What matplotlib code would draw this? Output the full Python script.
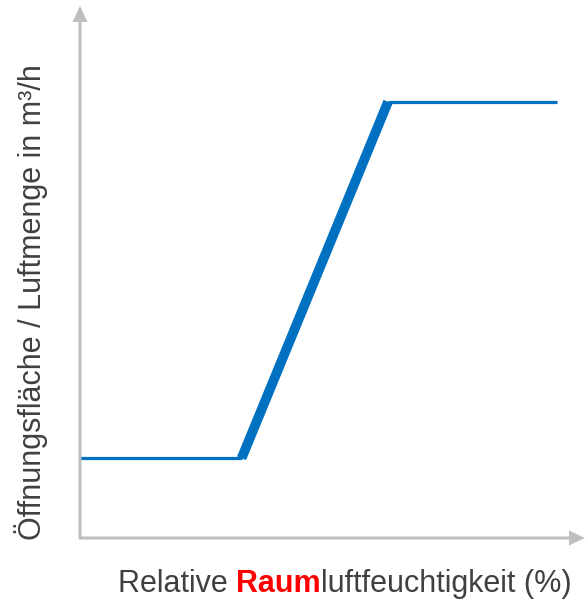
import matplotlib
matplotlib.use("Agg")
import matplotlib.pyplot as plt
from matplotlib import font_manager
from matplotlib.patches import FancyArrow

# Data
x_vals = [0, 32, 61, 94.5]
y_vals = [15, 15, 82, 82]
xlabel_parts = ["Relative ", "Raum", "luftfeuchtigkeit (%)"]
ylabel_text = "Öffnungsfläche / Luftmenge in m³/h"

names = {f.name for f in font_manager.fontManager.ttflist}
FONT = "Liberation Sans Narrow" if "Liberation Sans Narrow" in names else "Liberation Sans"
plt.rcParams['font.family'] = [FONT, 'DejaVu Sans']

W, H = 585, 603
fig = plt.figure(figsize=(W/100, H/100), dpi=100)
x0, x1 = 80, 585
y0, y1 = 538, 6
ax = fig.add_axes([x0/W, (H-y0)/H, (x1-x0)/W, (y0-y1)/H])
ax.set_xlim(0, 100)
ax.set_ylim(0, 100)
ax.axis('off')

blue = "#0070C0"
ax.plot(x_vals[0:2], y_vals[0:2], color=blue, lw=2.3, solid_capstyle='butt')
ax.plot(x_vals[1:3], y_vals[1:3], color=blue, lw=7.0, solid_capstyle='butt')
ax.plot(x_vals[2:4], y_vals[2:4], color=blue, lw=2.3, solid_capstyle='butt')

gray = "#BFBFBF"
fig.add_artist(FancyArrow(80/W, 1-539/H, 0, (539-6)/H, width=3/W, head_width=15/W,
                          head_length=16/H, length_includes_head=True, color=gray,
                          lw=0, transform=fig.transFigure))
fig.add_artist(FancyArrow(79/W, 1-538/H, (585-79)/W, 0, width=3/H, head_width=15/H,
                          head_length=16/W, length_includes_head=True, color=gray,
                          lw=0, transform=fig.transFigure))

txt = "#404040"
fs = 22
fig.text(31/W, 1-302/H, ylabel_text, rotation=90, ha='center', va='center',
         fontsize=fs, color=txt)

renderer = fig.canvas.get_renderer()
xs = 118
yb = 1 - 592/H
t1 = fig.text(xs/W, yb, xlabel_parts[0], fontsize=fs, color=txt, va='baseline')
bb = t1.get_window_extent(renderer)
t2 = fig.text(bb.x1/W, yb, xlabel_parts[1], fontsize=fs, color="#FF0000",
              fontweight='bold', va='baseline')
bb2 = t2.get_window_extent(renderer)
t3 = fig.text(bb2.x1/W, yb, xlabel_parts[2], fontsize=fs, color=txt, va='baseline')

fig.savefig("out.png", dpi=100)
